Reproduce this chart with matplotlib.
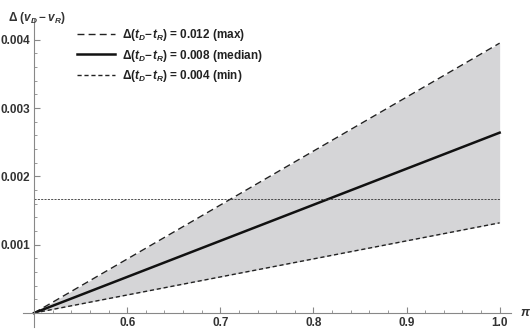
import matplotlib
matplotlib.use('Agg')
import matplotlib.pyplot as plt

# data
pi_vals = [0.5, 1.0]
d_max = [0.0, 0.00395]      # Δ(tD-tR) = 0.012
d_med = [0.0, 0.00264]      # Δ(tD-tR) = 0.008
d_min = [0.0, 0.00132]      # Δ(tD-tR) = 0.004
h_level = 0.00167
x_ticks = [0.6, 0.7, 0.8, 0.9, 1.0]
y_ticks = [0.001, 0.002, 0.003, 0.004]

plt.rcParams['font.family'] = ['Liberation Sans', 'DejaVu Sans']
plt.rcParams['mathtext.fontset'] = 'custom'
plt.rcParams['mathtext.it'] = 'Liberation Sans:italic:bold'
plt.rcParams['mathtext.rm'] = 'Liberation Sans:bold'

fig = plt.figure(figsize=(5.31, 3.32), dpi=100)
ax = fig.add_axes([0.043, 0.016, 0.919, 0.926])

ax.fill_between(pi_vals, d_min, d_max, color='#d5d5d7', lw=0)
ax.plot(pi_vals, d_max, color='#222222', lw=1.0, dashes=(5, 3),
        label=r'$\Delta(t_D\!-\!t_R)$ = 0.012 (max)')
ax.plot(pi_vals, d_med, color='#111111', lw=1.8,
        label=r'$\Delta(t_D\!-\!t_R)$ = 0.008 (median)')
ax.plot(pi_vals, d_min, color='#222222', lw=1.0, dashes=(3, 2),
        label=r'$\Delta(t_D\!-\!t_R)$ = 0.004 (min)')
ax.plot(pi_vals, [h_level, h_level], color='#333333', lw=0.6, dashes=(2.5, 1.5))

ax.set_xlim(0.488, 1.012)
ax.set_ylim(-0.0002, 0.0043)
ax.spines['left'].set_position(('data', 0.5))
ax.spines['bottom'].set_position(('data', 0.0))
ax.spines['top'].set_visible(False)
ax.spines['right'].set_visible(False)
for s in ['left', 'bottom']:
    ax.spines[s].set_color('#888888')
    ax.spines[s].set_linewidth(0.8)

ax.set_xticks(x_ticks)
ax.set_xticklabels(['%.1f' % v for v in x_ticks])
ax.set_yticks(y_ticks)
ax.set_yticklabels(['%.3f' % v for v in y_ticks])
ax.set_xticks([0.5 + 0.02 * i for i in range(1, 26) if i % 5 != 0], minor=True)
ax.set_yticks([0.0002 * i for i in range(1, 21) if i % 5 != 0], minor=True)
ax.tick_params(which='both', direction='in', color='#888888', labelsize=8.5,
               labelcolor='#333333')
ax.tick_params(which='major', length=4, width=0.8, pad=3)
ax.tick_params(which='minor', length=2, width=0.6)
for lab in ax.get_xticklabels() + ax.get_yticklabels():
    lab.set_fontweight('bold')

# axis labels, Mathematica style at the ends of the axes
ax.text(1.022, 0.0, r'$\pi$', fontsize=9, color='#333333', ha='left', va='center')
fig.text(0.015, 0.945, r'$\Delta\ (v_D - v_R)$', fontsize=8.5, color='#333333',
         ha='left', va='center')

leg = ax.legend(loc='upper left', bbox_to_anchor=(0.09, 1.01), frameon=False,
                fontsize=8.5, handlelength=3.2, handletextpad=0.6, labelspacing=0.4)
for t in leg.get_texts():
    t.set_color('#222222')
    t.set_fontweight('bold')

fig.savefig('out.png', dpi=100)
